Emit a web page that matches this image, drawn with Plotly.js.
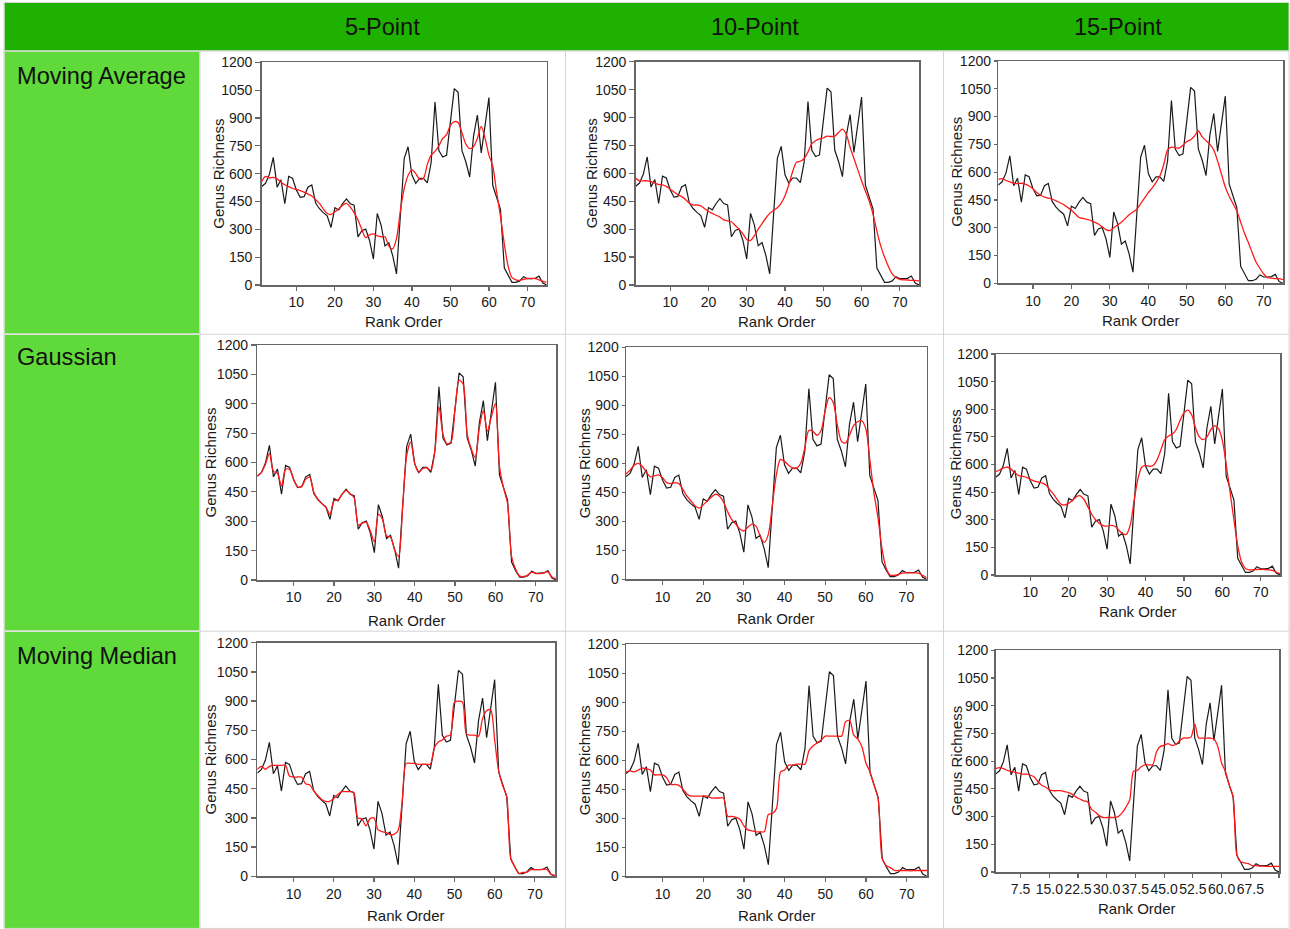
<!DOCTYPE html>
<html>
<head>
<meta charset="utf-8">
<script src="https://cdn.plot.ly/plotly-3.0.1.min.js"></script>
<style>html,body{margin:0;padding:0;background:#fff;}#chart{width:1290px;height:929px;}</style>
</head>
<body>
<div id="chart"></div>
<script>
// ---- data ----
const rank = [1,2,3,4,5,6,7,8,9,10,11,12,13,14,15,16,17,18,19,20,21,22,23,24,25,26,27,28,29,30,31,32,33,34,35,36,37,38,39,40,41,42,43,44,45,46,47,48,49,50,51,52,53,54,55,56,57,58,59,60,61,62,63,64,65,66,67,68,69,70,71,72,73,74,75];
const genusRichness = [531,548,596,688,527,567,438,585,575,512,472,476,527,539,442,411,390,373,310,416,404,438,464,438,430,259,293,301,240,140,385,322,211,228,159,60,373,681,745,592,548,575,575,550,660,986,724,690,699,896,1058,1038,724,664,582,801,916,712,870,1010,536,467,408,91,48,14,14,22,45,34,34,36,48,10,0];

const movingAvg5 = [557,585,578,580,572,555,540,530,520,515,508,500,490,480,460,440,410,385,380,395,410,430,440,420,390,350,300,255,270,275,265,260,260,210,195,250,400,520,590,620,600,570,575,650,700,720,750,790,810,860,880,875,820,760,735,745,790,855,790,700,640,500,370,220,100,40,28,25,30,35,35,35,28,20,15];
const movingAvg10 = [573,560,560,560,555,548,540,538,530,515,500,485,475,460,440,430,430,425,410,395,385,375,365,350,345,340,320,300,275,245,240,265,300,330,360,385,400,415,440,480,540,610,660,665,680,715,760,775,785,790,800,798,800,820,838,810,740,680,620,560,505,450,380,290,210,150,100,60,40,30,28,27,25,25,22];
const movingAvg15 = [561,565,555,548,540,538,540,535,525,510,490,475,465,460,455,445,435,425,410,395,375,355,350,345,340,330,320,305,290,284,300,315,330,350,370,385,400,430,460,490,515,545,580,640,720,735,732,730,745,765,775,795,822,790,770,750,720,660,590,520,470,430,390,330,270,220,165,115,80,50,30,28,25,25,20];

const gaussian5 = [530,548,590,645,555,545,480,565,565,515,475,478,515,525,448,413,390,372,335,405,408,438,458,440,420,280,290,295,250,195,335,310,225,220,155,120,370,635,705,595,550,570,572,560,660,885,745,695,705,875,1020,1000,745,670,625,775,865,760,835,900,580,470,390,120,55,20,18,25,40,33,33,36,42,15,5];
const gaussian10 = [545,565,590,600,585,555,530,535,540,525,500,495,500,495,465,430,405,380,368,385,405,425,440,430,400,350,310,285,260,250,270,285,275,225,191,230,380,540,620,610,590,575,575,600,680,770,765,745,770,870,940,915,800,715,705,745,795,815,820,780,620,450,320,160,60,22,20,25,32,33,33,33,32,20,8];
const gaussian15 = [561,570,582,585,575,555,540,535,530,520,510,505,500,490,465,440,410,385,380,390,405,425,430,410,370,330,300,280,268,265,270,265,245,225,220,270,400,520,585,595,590,595,625,680,735,755,765,790,840,880,895,870,800,750,735,750,790,810,795,730,600,450,300,160,70,35,28,28,30,30,30,28,25,15,8];

const movingMed5 = [550,565,550,565,570,570,570,570,515,510,510,510,475,470,440,415,395,385,385,400,420,435,435,435,430,300,295,260,295,300,240,230,225,215,215,235,380,580,580,580,575,575,575,575,660,690,700,720,725,895,900,895,730,725,725,720,810,850,855,700,540,465,410,90,50,15,20,22,34,34,34,36,35,10,5];
const movingMed10 = [540,545,540,550,560,555,550,525,525,525,510,475,475,470,450,425,415,415,415,415,415,405,405,405,405,310,310,305,295,260,240,235,230,230,230,320,325,350,540,550,575,575,580,580,580,650,675,690,705,725,725,725,725,725,800,805,730,710,670,585,540,470,400,90,55,45,30,30,30,30,28,30,30,30,30];
const movingMed15 = [560,565,560,550,545,540,535,530,530,525,515,490,470,460,445,440,440,440,435,430,420,405,395,385,380,340,325,305,295,295,295,295,300,320,350,390,545,550,570,580,580,580,650,680,685,695,685,690,710,725,725,730,800,725,725,725,725,720,680,590,545,470,410,90,55,50,45,35,35,32,32,30,30,30,30];

const columnHeaders = ["5-Point", "10-Point", "15-Point"];
const rowLabels = ["Moving Average", "Gaussian", "Moving Median"];
const xTitle = "Rank Order";
const yTitle = "Genus Richness";
const smoothed = [movingAvg5, movingAvg10, movingAvg15, gaussian5, gaussian10, gaussian15, movingMed5, movingMed10, movingMed15];

// ---- layout geometry (pixels) ----
const W = 1290, H = 929;
const boxes = [
  [261.7, 546.7, 62.3, 285], [635.7, 919, 61.7, 285], [998.3, 1283, 61, 283.3],
  [257.3, 556, 345, 580], [626, 926.7, 347.3, 579.3], [995.7, 1280, 354, 575],
  [257.3, 555, 642.7, 876.3], [626, 927, 644.3, 876.3], [995.7, 1279, 650.3, 872]
];
const yTickLen = [5, 5, 3, 5, 3, 3, 5, 3, 3];
const yTitleX = [219, 591, 955.7, 210, 584, 955.7, 210, 584, 955.7];
const xTitleY = [321.7, 321.7, 320.7, 620, 618, 611, 915, 915, 908];
const px = v => v / W;
const py = v => 1 - v / H;
const FONT = "Liberation Sans, Arial, Helvetica, sans-serif";

const traces = [];
const layout = {
  width: W, height: H,
  margin: {l: 0, r: 0, t: 0, b: 0},
  paper_bgcolor: "#ffffff", plot_bgcolor: "#ffffff",
  showlegend: false,
  font: {family: FONT, color: "#1a1a1a"},
  shapes: [], annotations: []
};

boxes.forEach((b, i) => {
  const n = i + 1;
  const xa = n === 1 ? "xaxis" : "xaxis" + n;
  const ya = n === 1 ? "yaxis" : "yaxis" + n;
  const xr = n === 1 ? "x" : "x" + n;
  const yr = n === 1 ? "y" : "y" + n;
  const last = (i === 8);
  layout[xa] = {
    domain: [px(b[0]), px(b[1])], anchor: yr, range: [1, 75],
    showline: true, mirror: true, linecolor: "#666", linewidth: 1.5,
    ticks: "outside", ticklen: 4, tickwidth: 1.2, tickcolor: "#666",
    showgrid: false, zeroline: false,
    tick0: 0, dtick: last ? 7.5 : 10, tickformat: last ? ".1f" : "d", tickangle: 0,
    tickfont: {size: 14, family: FONT, color: "#1a1a1a"}
  };
  layout[ya] = {
    domain: [py(b[3]), py(b[2])], anchor: xr, range: [0, 1200],
    showline: true, mirror: true, linecolor: "#666", linewidth: 1.5,
    ticks: "outside", ticklen: yTickLen[i], tickwidth: 1.2, tickcolor: "#666",
    showgrid: false, zeroline: false, tick0: 0, dtick: 150,
    tickfont: {size: 14, family: FONT, color: "#1a1a1a"}
  };
  traces.push({
    x: rank, y: genusRichness, xaxis: xr, yaxis: yr, type: "scatter", mode: "lines",
    line: {color: "#1a1a1a", width: 1.2}, hoverinfo: "skip"
  });
  traces.push({
    x: rank, y: smoothed[i], xaxis: xr, yaxis: yr, type: "scatter", mode: "lines",
    line: {color: "#ff1a1a", width: 1.3, shape: "spline", smoothing: 0.8}, hoverinfo: "skip"
  });
  layout.annotations.push({
    text: yTitle, xref: "paper", yref: "paper", x: px(yTitleX[i]), y: py((b[2] + b[3]) / 2),
    xanchor: "center", yanchor: "middle", textangle: -90, showarrow: false,
    font: {size: 15, family: FONT, color: "#1a1a1a"}
  });
  layout.annotations.push({
    text: xTitle, xref: "paper", yref: "paper", x: px((b[0] + b[1]) / 2), y: py(xTitleY[i]),
    xanchor: "center", yanchor: "middle", showarrow: false,
    font: {size: 15, family: FONT, color: "#1a1a1a"}
  });
});

// table backgrounds
const rect = (x0, x1, y0, y1, fill) => ({type: "rect", xref: "paper", yref: "paper",
  x0: px(x0), x1: px(x1), y0: py(y1), y1: py(y0), fillcolor: fill, line: {width: 0}, layer: "below"});
const hline = (x0, x1, y) => ({type: "line", xref: "paper", yref: "paper",
  x0: px(x0), x1: px(x1), y0: py(y), y1: py(y), line: {color: "#d4d4d4", width: 1}, layer: "below"});
const vline = (x, y0, y1) => ({type: "line", xref: "paper", yref: "paper",
  x0: px(x), x1: px(x), y0: py(y0), y1: py(y1), line: {color: "#d4d4d4", width: 1}, layer: "below"});

layout.shapes.push(rect(4.5, 1289, 3, 50.5, "#1eb100"));
const rowSpans = [[51.5, 333.5], [335, 630.5], [632, 928]];
rowSpans.forEach(r => layout.shapes.push(rect(4.5, 199.5, r[0], r[1], "#60d93a")));
layout.shapes.push(hline(4, 1289, 2.5));
layout.shapes.push(hline(4, 1289, 51));
layout.shapes.push(hline(4, 1289, 334.2));
layout.shapes.push(hline(4, 1289, 631.2));
layout.shapes.push(hline(4, 1289, 928.4));
layout.shapes.push(vline(4, 2.5, 928.4));
layout.shapes.push(vline(200, 51, 928.4));
layout.shapes.push(vline(565.5, 51, 928.4));
layout.shapes.push(vline(943.5, 51, 928.4));
layout.shapes.push(vline(1289, 2.5, 928.4));

// header and row labels
const headerX = [382, 755, 1118];
columnHeaders.forEach((t, i) => layout.annotations.push({
  text: t, xref: "paper", yref: "paper", x: px(headerX[i]), y: py(27),
  xanchor: "center", yanchor: "middle", showarrow: false,
  font: {size: 23.6, family: FONT, color: "#111"}
}));
const rowY = [76, 357, 656];
rowLabels.forEach((t, i) => layout.annotations.push({
  text: t, xref: "paper", yref: "paper", x: px(15), y: py(rowY[i]),
  xanchor: "left", yanchor: "middle", showarrow: false,
  font: {size: 23.6, family: FONT, color: "#111"}
}));

Plotly.newPlot("chart", traces, layout, {staticPlot: true, displayModeBar: false});
</script>
</body>
</html>
